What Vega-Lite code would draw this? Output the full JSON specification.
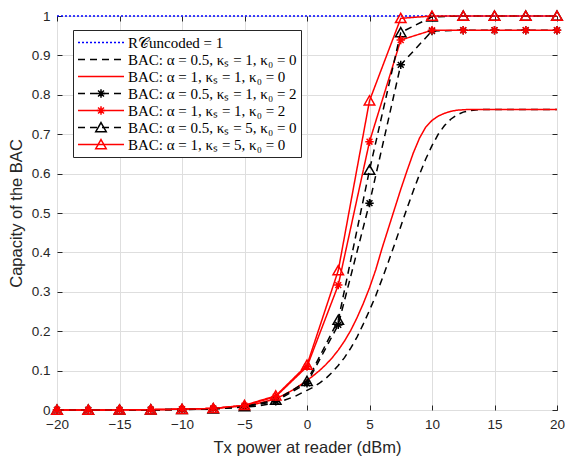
{
  "$schema": "https://vega.github.io/schema/vega-lite/v6.json",
  "width": 500,
  "height": 394,
  "autosize": {"type": "none"},
  "padding": {"left": 57, "top": 16, "right": 8, "bottom": 49},
  "background": "white",
  "config": {
    "view": {"stroke": "#262626", "strokeWidth": 1},
    "font": "Liberation Sans",
    "axis": {
      "labelFont": "Liberation Sans",
      "titleFont": "Liberation Sans",
      "labelColor": "#262626",
      "titleColor": "#262626",
      "labelFontSize": 13.5,
      "titleFontSize": 16.5,
      "titleFontWeight": "normal",
      "gridColor": "#dedede",
      "gridOpacity": 1,
      "domain": false,
      "tickColor": "#262626",
      "labelFlush": false
    }
  },
  "data": {
    "values": [
      {"s": "s1", "x": -20, "y": 1}, {"s": "s1", "x": 20, "y": 1},
      {"s": "s2", "x": -20, "y": 0}, {"s": "s2", "x": -15, "y": 0.0002}, {"s": "s2", "x": -12.5, "y": 0.0005}, {"s": "s2", "x": -10, "y": 0.001}, {"s": "s2", "x": -7.5, "y": 0.003}, {"s": "s2", "x": -5, "y": 0.007}, {"s": "s2", "x": -4, "y": 0.01}, {"s": "s2", "x": -3, "y": 0.015}, {"s": "s2", "x": -2, "y": 0.023}, {"s": "s2", "x": -1, "y": 0.034}, {"s": "s2", "x": 0, "y": 0.05}, {"s": "s2", "x": 0.5, "y": 0.058}, {"s": "s2", "x": 1, "y": 0.068}, {"s": "s2", "x": 1.5, "y": 0.08}, {"s": "s2", "x": 2, "y": 0.095}, {"s": "s2", "x": 2.5, "y": 0.113}, {"s": "s2", "x": 3, "y": 0.133}, {"s": "s2", "x": 3.5, "y": 0.157}, {"s": "s2", "x": 4, "y": 0.185}, {"s": "s2", "x": 4.5, "y": 0.218}, {"s": "s2", "x": 5, "y": 0.253}, {"s": "s2", "x": 5.5, "y": 0.29}, {"s": "s2", "x": 6, "y": 0.332}, {"s": "s2", "x": 6.5, "y": 0.375}, {"s": "s2", "x": 7, "y": 0.42}, {"s": "s2", "x": 7.5, "y": 0.466}, {"s": "s2", "x": 8, "y": 0.512}, {"s": "s2", "x": 8.5, "y": 0.556}, {"s": "s2", "x": 9, "y": 0.598}, {"s": "s2", "x": 9.5, "y": 0.637}, {"s": "s2", "x": 10, "y": 0.671}, {"s": "s2", "x": 10.5, "y": 0.7}, {"s": "s2", "x": 11, "y": 0.722}, {"s": "s2", "x": 11.5, "y": 0.738}, {"s": "s2", "x": 12, "y": 0.749}, {"s": "s2", "x": 12.5, "y": 0.756}, {"s": "s2", "x": 13, "y": 0.76}, {"s": "s2", "x": 14, "y": 0.763}, {"s": "s2", "x": 20, "y": 0.763},
      {"s": "s3", "x": -20, "y": 0}, {"s": "s3", "x": -15, "y": 0.0003}, {"s": "s3", "x": -12.5, "y": 0.0008}, {"s": "s3", "x": -10, "y": 0.002}, {"s": "s3", "x": -7.5, "y": 0.004}, {"s": "s3", "x": -5, "y": 0.011}, {"s": "s3", "x": -4, "y": 0.016}, {"s": "s3", "x": -3, "y": 0.024}, {"s": "s3", "x": -2, "y": 0.036}, {"s": "s3", "x": -1, "y": 0.053}, {"s": "s3", "x": 0, "y": 0.075}, {"s": "s3", "x": 0.5, "y": 0.087}, {"s": "s3", "x": 1, "y": 0.1}, {"s": "s3", "x": 1.5, "y": 0.115}, {"s": "s3", "x": 2, "y": 0.132}, {"s": "s3", "x": 2.5, "y": 0.152}, {"s": "s3", "x": 3, "y": 0.175}, {"s": "s3", "x": 3.5, "y": 0.202}, {"s": "s3", "x": 4, "y": 0.234}, {"s": "s3", "x": 4.5, "y": 0.27}, {"s": "s3", "x": 5, "y": 0.31}, {"s": "s3", "x": 5.5, "y": 0.356}, {"s": "s3", "x": 6, "y": 0.41}, {"s": "s3", "x": 6.5, "y": 0.46}, {"s": "s3", "x": 7, "y": 0.51}, {"s": "s3", "x": 7.5, "y": 0.56}, {"s": "s3", "x": 8, "y": 0.607}, {"s": "s3", "x": 8.5, "y": 0.652}, {"s": "s3", "x": 9, "y": 0.69}, {"s": "s3", "x": 9.5, "y": 0.718}, {"s": "s3", "x": 10, "y": 0.735}, {"s": "s3", "x": 10.5, "y": 0.746}, {"s": "s3", "x": 11, "y": 0.753}, {"s": "s3", "x": 11.5, "y": 0.758}, {"s": "s3", "x": 12, "y": 0.761}, {"s": "s3", "x": 12.5, "y": 0.762}, {"s": "s3", "x": 13, "y": 0.763}, {"s": "s3", "x": 20, "y": 0.763},
      {"s": "s4", "x": -20, "y": 0}, {"s": "s4", "x": -17.5, "y": 0.0001}, {"s": "s4", "x": -15, "y": 0.0003}, {"s": "s4", "x": -12.5, "y": 0.0007}, {"s": "s4", "x": -10, "y": 0.0015}, {"s": "s4", "x": -7.5, "y": 0.003}, {"s": "s4", "x": -5, "y": 0.008}, {"s": "s4", "x": -2.5, "y": 0.022}, {"s": "s4", "x": 0, "y": 0.068}, {"s": "s4", "x": 2.5, "y": 0.216}, {"s": "s4", "x": 5, "y": 0.525}, {"s": "s4", "x": 7.5, "y": 0.876}, {"s": "s4", "x": 10, "y": 0.962}, {"s": "s4", "x": 12.5, "y": 0.964}, {"s": "s4", "x": 15, "y": 0.964}, {"s": "s4", "x": 17.5, "y": 0.964}, {"s": "s4", "x": 20, "y": 0.964},
      {"s": "s5", "x": -20, "y": 0}, {"s": "s5", "x": -17.5, "y": 0.0001}, {"s": "s5", "x": -15, "y": 0.0003}, {"s": "s5", "x": -12.5, "y": 0.0008}, {"s": "s5", "x": -10, "y": 0.002}, {"s": "s5", "x": -7.5, "y": 0.004}, {"s": "s5", "x": -5, "y": 0.011}, {"s": "s5", "x": -2.5, "y": 0.034}, {"s": "s5", "x": 0, "y": 0.11}, {"s": "s5", "x": 2.5, "y": 0.317}, {"s": "s5", "x": 5, "y": 0.681}, {"s": "s5", "x": 7.5, "y": 0.939}, {"s": "s5", "x": 10, "y": 0.964}, {"s": "s5", "x": 12.5, "y": 0.964}, {"s": "s5", "x": 15, "y": 0.964}, {"s": "s5", "x": 17.5, "y": 0.964}, {"s": "s5", "x": 20, "y": 0.964},
      {"s": "s6", "x": -20, "y": 0}, {"s": "s6", "x": -17.5, "y": 0.0001}, {"s": "s6", "x": -15, "y": 0.0003}, {"s": "s6", "x": -12.5, "y": 0.0007}, {"s": "s6", "x": -10, "y": 0.0015}, {"s": "s6", "x": -7.5, "y": 0.003}, {"s": "s6", "x": -5, "y": 0.009}, {"s": "s6", "x": -2.5, "y": 0.025}, {"s": "s6", "x": 0, "y": 0.073}, {"s": "s6", "x": 2.5, "y": 0.228}, {"s": "s6", "x": 5, "y": 0.609}, {"s": "s6", "x": 7.5, "y": 0.958}, {"s": "s6", "x": 10, "y": 0.998}, {"s": "s6", "x": 12.5, "y": 1}, {"s": "s6", "x": 15, "y": 1}, {"s": "s6", "x": 17.5, "y": 1}, {"s": "s6", "x": 20, "y": 1},
      {"s": "s7", "x": -20, "y": 0}, {"s": "s7", "x": -17.5, "y": 0.0001}, {"s": "s7", "x": -15, "y": 0.0003}, {"s": "s7", "x": -12.5, "y": 0.0008}, {"s": "s7", "x": -10, "y": 0.002}, {"s": "s7", "x": -7.5, "y": 0.004}, {"s": "s7", "x": -5, "y": 0.012}, {"s": "s7", "x": -2.5, "y": 0.036}, {"s": "s7", "x": 0, "y": 0.114}, {"s": "s7", "x": 2.5, "y": 0.354}, {"s": "s7", "x": 5, "y": 0.785}, {"s": "s7", "x": 7.5, "y": 0.994}, {"s": "s7", "x": 10, "y": 1}, {"s": "s7", "x": 12.5, "y": 1}, {"s": "s7", "x": 15, "y": 1}, {"s": "s7", "x": 17.5, "y": 1}, {"s": "s7", "x": 20, "y": 1}
    ]
  },
  "layer": [
    {
      "mark": {"type": "line", "strokeWidth": 1.5},
      "encoding": {
        "x": {
          "field": "x", "type": "quantitative",
          "scale": {"domain": [-20, 20], "nice": false},
          "axis": {"orient": "bottom", "values": [-20, -15, -10, -5, 0, 5, 10, 15, 20], "title": "Tx power at reader (dBm)", "tickSize": -5, "labelPadding": 12, "titlePadding": 9}
        },
        "y": {
          "field": "y", "type": "quantitative",
          "scale": {"domain": [0, 1], "nice": false},
          "axis": {"orient": "left", "values": [0, 0.1, 0.2, 0.3, 0.4, 0.5, 0.6, 0.7, 0.8, 0.9, 1], "format": ".1~f", "title": "Capacity of the BAC", "tickSize": -5, "labelPadding": 12, "titlePadding": 7}
        },
        "color": {
          "field": "s", "type": "nominal",
          "scale": {"domain": ["s1", "s2", "s3", "s4", "s5", "s6", "s7"], "range": ["#0000ff", "#000000", "#ff0000", "#000000", "#ff0000", "#000000", "#ff0000"]},
          "legend": {
            "orient": "none", "legendX": 16, "legendY": 14, "title": null,
            "symbolType": "stroke", "symbolSize": 2116, "symbolStrokeWidth": 1.5,
            "clipHeight": 17, "rowPadding": 0, "padding": 4,
            "labelFont": "Liberation Serif", "labelFontSize": 15, "labelColor": "#000000", "labelOffset": 3, "labelLimit": 0,
            "strokeColor": "#262626", "fillColor": "#ffffff",
            "labelExpr": "datum.label == 's1' ? 'R𝒞uncoded = 1' : datum.label == 's2' ? 'BAC: α = 0.5, κₛ = 1, κ₀ = 0' : datum.label == 's3' ? 'BAC: α = 1, κₛ = 1, κ₀ = 0' : datum.label == 's4' ? 'BAC: α = 0.5, κₛ = 1, κ₀ = 2' : datum.label == 's5' ? 'BAC: α = 1, κₛ = 1, κ₀ = 2' : datum.label == 's6' ? 'BAC: α = 0.5, κₛ = 5, κ₀ = 0' : 'BAC: α = 1, κₛ = 5, κ₀ = 0'"
          }
        },
        "strokeDash": {
          "field": "s", "type": "nominal",
          "scale": {"domain": ["s1", "s2", "s3", "s4", "s5", "s6", "s7"], "range": [[2, 2], [7, 5], [1, 0], [7, 5], [1, 0], [7, 5], [1, 0]]},
          "legend": {
            "orient": "none", "legendX": 16, "legendY": 14, "title": null,
            "symbolType": "stroke", "symbolSize": 2116, "symbolStrokeWidth": 1.5,
            "clipHeight": 17, "rowPadding": 0, "padding": 4,
            "labelFont": "Liberation Serif", "labelFontSize": 15, "labelColor": "#000000", "labelOffset": 3, "labelLimit": 0,
            "strokeColor": "#262626", "fillColor": "#ffffff"
          }
        }
      }
    },
    {
      "transform": [{"filter": {"field": "s", "oneOf": ["s4", "s6"]}}],
      "mark": {"type": "point", "filled": false, "strokeWidth": 1.5, "size": 110, "opacity": 1, "color": "#000000"},
      "encoding": {
        "x": {
          "field": "x", "type": "quantitative",
          "axis": {"orient": "top", "values": [-20, -15, -10, -5, 0, 5, 10, 15, 20], "labels": false, "title": null, "grid": false, "tickSize": -5}
        },
        "y": {
          "field": "y", "type": "quantitative",
          "axis": {"orient": "right", "values": [0, 0.1, 0.2, 0.3, 0.4, 0.5, 0.6, 0.7, 0.8, 0.9, 1], "labels": false, "title": null, "grid": false, "tickSize": -5}
        },
        "shape": {
          "field": "s", "type": "nominal",
          "scale": {"domain": ["s4", "s6"], "range": ["M0,-0.8L0,0.8M-0.8,0L0.8,0M-0.56,-0.56L0.56,0.56M-0.56,0.56L0.56,-0.56", "M0,-0.95L1,0.8L-1,0.8Z"]},
          "legend": {
            "orient": "none", "legendX": 16, "legendY": 65, "title": null,
            "symbolSize": 110, "symbolStrokeWidth": 1.5, "symbolFillColor": "transparent", "symbolStrokeColor": "#000000", "symbolOffset": 18, "symbolOpacity": 1,
            "clipHeight": 17, "rowPadding": 17, "padding": 4,
            "labelExpr": "''"
          }
        }
      }
    },
    {
      "transform": [{"filter": {"field": "s", "oneOf": ["s5", "s7"]}}],
      "mark": {"type": "point", "filled": false, "strokeWidth": 1.5, "size": 110, "opacity": 1, "color": "#ff0000"},
      "encoding": {
        "x": {"field": "x", "type": "quantitative", "axis": null},
        "y": {"field": "y", "type": "quantitative", "axis": null},
        "shape": {
          "field": "s", "type": "nominal",
          "scale": {"domain": ["s5", "s7"], "range": ["M0,-0.8L0,0.8M-0.8,0L0.8,0M-0.56,-0.56L0.56,0.56M-0.56,0.56L0.56,-0.56", "M0,-0.95L1,0.8L-1,0.8Z"]},
          "legend": {
            "orient": "none", "legendX": 16, "legendY": 82, "title": null,
            "symbolSize": 110, "symbolStrokeWidth": 1.5, "symbolFillColor": "transparent", "symbolStrokeColor": "#ff0000", "symbolOffset": 18, "symbolOpacity": 1,
            "clipHeight": 17, "rowPadding": 17, "padding": 4,
            "labelExpr": "''"
          }
        }
      }
    }
  ],
  "resolve": {"axis": {"x": "independent", "y": "independent"}, "scale": {"shape": "independent"}}
}
